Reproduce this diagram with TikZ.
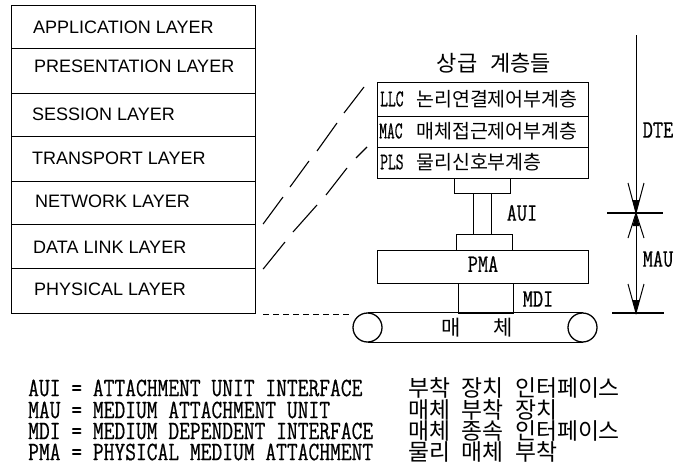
\documentclass[tikz,border=0pt]{standalone}
\usepackage{fontspec}
\setmainfont{Liberation Sans}
\newfontfamily\krfont{Noto Sans CJK KR}
\newfontfamily\bitfont[FakeStretch=0.79,FakeBold=0.6]{Latin Modern Mono}
\newfontfamily\tagfont[FakeStretch=0.63,FakeBold=0.6]{Latin Modern Mono}
\newcommand{\krgap}{\hspace{13pt}}
\newcommand{\lgap}{\hspace{11.5pt}}
\tikzset{
  layerbox/.style={draw, line width=1.1pt, minimum width=244pt, anchor=north west, inner sep=0pt},
  layertext/.style={anchor=west, inner sep=0pt, font=\fontsize{18}{20}\selectfont},
  blockbox/.style={draw, line width=1.4pt, anchor=north west, inner sep=0pt},
  subtext/.style={anchor=west, inner sep=0pt, font=\fontsize{19.5}{21}\selectfont\krfont},
  tag/.style={inner sep=0pt, font=\fontsize{25}{27}\selectfont\bitfont},
  legend/.style={anchor=west, inner sep=0pt, font=\fontsize{26.5}{28}\selectfont\bitfont},
  legendkr/.style={anchor=west, inner sep=0pt, font=\fontsize{22.8}{24}\selectfont\krfont},
  dim/.style={line width=1pt},
  tick/.style={line width=1.3pt},
  slash/.style={line width=1.1pt}
}
\newcommand{\sublabel}[2]{\makebox[36pt][l]{\fontsize{24}{24}\selectfont\tagfont #1}#2}
\begin{document}
\begin{tikzpicture}[x=1pt,y=-1pt]
\useasboundingbox (0,0) rectangle (676,466);
% OSI stack
\foreach \nm/\ya/\yb in {ap/5/48,pr/48/93,se/93/136,tr/136/181,ne/181/224,dl/224/268,ph/268/313}{
  \pgfmathsetlengthmacro{\hh}{\yb-\ya}
  \node[layerbox, minimum height=\hh] (\nm) at (11,\ya) {};
}
\node[layertext] (tap) at (33,27) {APPLICATION LAYER};
\node[layertext] (tpr) at (34,66) {PRESENTATION LAYER};
\node[layertext] (tse) at (32,114) {SESSION LAYER};
\node[layertext] (ttr) at (32,158) {TRANSPORT LAYER};
\node[layertext] (tne) at (35,201) {NETWORK LAYER};
\node[layertext] (tdl) at (33,247) {DATA LINK LAYER};
\node[layertext] (tph) at (34,289) {PHYSICAL LAYER};
% right stack
\node[inner sep=0pt, font=\fontsize{22}{24}\selectfont\krfont] (top) at (494,63) {상급\krgap 계층들};
\node[blockbox, minimum width=211pt, minimum height=34pt] (llc) at (377,82) {};
\node[blockbox, minimum width=211pt, minimum height=31pt] (mac) at (377,116) {};
\node[blockbox, minimum width=211pt, minimum height=31pt] (pls) at (377,147) {};
\node[subtext] (tllc) at (380,99) {\sublabel{LLC}{논리연결제어부계층}};
\node[subtext] (tmac) at (379,131) {\sublabel{MAC}{\hspace{1pt}매체접근제어부계층}};
\node[subtext] (tpls) at (380,162) {\sublabel{PLS}{물리신호부계층}};
\node[blockbox, minimum width=56pt, minimum height=15pt] (c1) at (454,178) {};
\node[blockbox, minimum width=18pt, minimum height=41pt] (stem) at (473,193) {};
\node[blockbox, minimum width=56pt, minimum height=16pt] (c2) at (456,234) {};
\node[blockbox, minimum width=211pt, minimum height=33pt] (pma) at (377,250) {};
\node[blockbox, minimum width=55pt, minimum height=30pt] (mdi) at (458,283) {};
\node[tag] (tpma) at (483,264) {PMA};
\node[tag] (taui) at (522,213) {AUI};
\node[tag] (tmdi) at (538,299) {MDI};
% medium
\node[draw, circle, line width=1.3pt, minimum size=29pt, inner sep=0pt] (rl) at (367.5,327.5) {};
\node[draw, circle, line width=1.3pt, minimum size=29pt, inner sep=0pt] (rr) at (582.5,327.5) {};
\draw[line width=1.3pt] (rl.north) -- (rr.north);
\draw[line width=1.3pt] (rl.south) -- (rr.south);
\node[inner sep=0pt, font=\fontsize{21}{23}\selectfont\krfont] (m1) at (451,328) {매};
\node[inner sep=0pt, font=\fontsize{21}{23}\selectfont\krfont] (m2) at (503,328) {체};
% dashed lines
\coordinate (d1b) at (364,87);
\coordinate (d2b) at (367,147);
\coordinate (d3b) at (350,314);
\draw[slash] (dl.north east)++(7,0) -- (283,197) (290,187) -- (309,161) (317,151) -- (337,123) (344,113) -- (d1b);
\draw[slash] (dl.south east)++(7,0) -- (285,242) (293,232) -- (317,205) (326,195) -- (347,168) (356,158) -- (d2b);
\coordinate (d3a) at (263,314);
\draw[line width=0.9pt, dash pattern=on 6pt off 4pt] (d3a) -- (d3b);
% dimensions
\coordinate (dtop) at (636,35);
\coordinate (dmid) at (636,213);
\coordinate (dbot) at (636,313);
\coordinate (tl1) at (607,213); \coordinate (tr1) at (663,213);
\coordinate (tl2) at (612,313); \coordinate (tr2) at (664,313);
\draw[tick] (tl1) -- (tr1);
\draw[tick] (tl2) -- (tr2);
\draw[dim] (dtop) -- (dmid);
\draw[dim] (dmid) -- (dbot);
\draw[dim] (628,183) -- (dmid) -- (644,183);
\draw[dim] (628,238) -- (dmid) -- (644,238);
\draw[dim] (628,284) -- (dbot) -- (644,284);
\fill (632.5,200) -- (dmid) -- (639.5,200) -- cycle;
\fill (632.5,226) -- (dmid) -- (639.5,226) -- cycle;
\fill (632.5,300) -- (dbot) -- (639.5,300) -- cycle;
\node[tag] (tdte) at (658,130) {DTE};
\node[tag] (tmau) at (658,259) {MAU};
% legend
\node[legend] (l1) at (28,388) {AUI = ATTACHMENT UNIT INTERFACE};
\node[legend] (l2) at (28,410) {MAU = MEDIUM ATTACHMENT UNIT};
\node[legend] (l3) at (28,431) {MDI = MEDIUM DEPENDENT INTERFACE};
\node[legend] (l4) at (28,452) {PMA = PHYSICAL MEDIUM ATTACHMENT};
\node[legendkr] (k1) at (408,388) {부착\lgap 장치\lgap 인터페이스};
\node[legendkr] (k2) at (408,410) {매체\lgap 부착\lgap 장치};
\node[legendkr] (k3) at (408,431) {매체\lgap 종속\lgap 인터페이스};
\node[legendkr] (k4) at (408,452) {물리\lgap 매체\lgap 부착};
\end{tikzpicture}
\end{document}
